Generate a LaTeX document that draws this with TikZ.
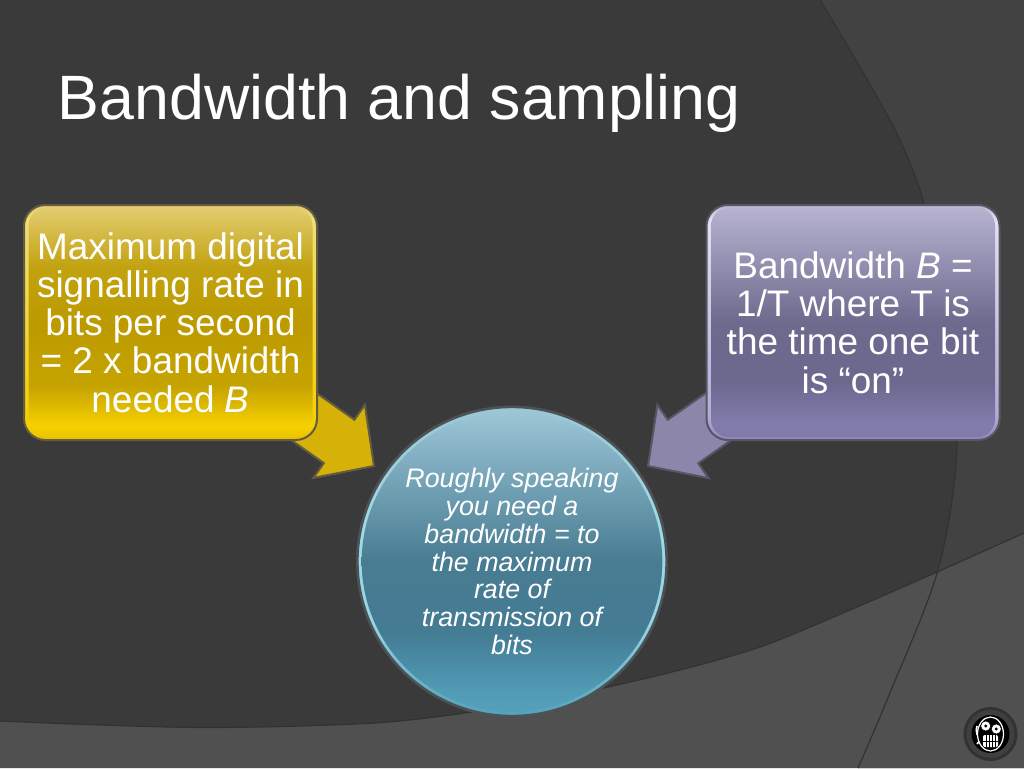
\documentclass[tikz,border=0pt]{standalone}
\usepackage{fontspec}
\setmainfont{Liberation Sans}
\usetikzlibrary{backgrounds,calc,shapes.geometric}
\definecolor{slatedark}{RGB}{58, 58, 58}
\definecolor{slateright}{RGB}{66, 66, 66}
\definecolor{slateband}{RGB}{80, 80, 80}
\definecolor{slateline}{RGB}{50, 50, 50}
\definecolor{goldedge}{RGB}{100, 92, 62}
\definecolor{goldarrowfill}{RGB}{214, 178, 8}
\definecolor{lilacedge}{RGB}{88, 86, 100}
\definecolor{lilacarrowfill}{RGB}{140, 134, 170}
\definecolor{tealedge}{RGB}{76, 82, 86}
\pgfdeclareverticalshading{goldrimfill}{100bp}{color(0bp)=(rgb,255:red,232;green,190;blue,0); color(25bp)=(rgb,255:red,232;green,190;blue,0); color(28bp)=(rgb,255:red,244;green,208;blue,0); color(50bp)=(rgb,255:red,240;green,214;blue,60); color(72bp)=(rgb,255:red,240;green,222;blue,120); color(75bp)=(rgb,255:red,226;green,204;blue,112); color(100bp)=(rgb,255:red,226;green,204;blue,112)}
\pgfdeclareverticalshading{goldbodyfill}{100bp}{color(0bp)=(rgb,255:red,236;green,196;blue,0); color(25bp)=(rgb,255:red,236;green,196;blue,0); color(27.5bp)=(rgb,255:red,246;green,208;blue,0); color(36bp)=(rgb,255:red,198;green,164;blue,0); color(50bp)=(rgb,255:red,188;green,154;blue,0); color(62bp)=(rgb,255:red,194;green,162;blue,16); color(75bp)=(rgb,255:red,226;green,204;blue,112); color(100bp)=(rgb,255:red,226;green,204;blue,112)}
\pgfdeclareverticalshading{lilacrimfill}{100bp}{color(0bp)=(rgb,255:red,140;green,134;blue,184); color(25bp)=(rgb,255:red,140;green,134;blue,184); color(30bp)=(rgb,255:red,176;green,172;blue,214); color(50bp)=(rgb,255:red,200;green,198;blue,226); color(72bp)=(rgb,255:red,226;green,224;blue,240); color(75bp)=(rgb,255:red,182;green,178;blue,208); color(100bp)=(rgb,255:red,182;green,178;blue,208)}
\pgfdeclareverticalshading{lilacbodyfill}{100bp}{color(0bp)=(rgb,255:red,128;green,122;blue,170); color(25bp)=(rgb,255:red,128;green,122;blue,170); color(28bp)=(rgb,255:red,130;green,124;blue,172); color(37bp)=(rgb,255:red,108;green,104;blue,142); color(50bp)=(rgb,255:red,110;green,106;blue,142); color(75bp)=(rgb,255:red,182;green,178;blue,208); color(100bp)=(rgb,255:red,182;green,178;blue,208)}
\pgfdeclareverticalshading{tealrimfill}{100bp}{color(0bp)=(rgb,255:red,84;green,160;blue,186); color(25bp)=(rgb,255:red,84;green,160;blue,186); color(40bp)=(rgb,255:red,150;green,214;blue,226); color(55bp)=(rgb,255:red,160;green,218;blue,230); color(75bp)=(rgb,255:red,156;green,198;blue,214); color(100bp)=(rgb,255:red,156;green,198;blue,214)}
\pgfdeclareverticalshading{tealbodyfill}{100bp}{color(0bp)=(rgb,255:red,84;green,160;blue,186); color(25bp)=(rgb,255:red,84;green,160;blue,186); color(29bp)=(rgb,255:red,80;green,154;blue,180); color(38bp)=(rgb,255:red,68;green,124;blue,148); color(50bp)=(rgb,255:red,72;green,124;blue,146); color(75bp)=(rgb,255:red,156;green,198;blue,214); color(100bp)=(rgb,255:red,156;green,198;blue,214)}
\tikzset{
  boxrim/.style={rectangle, rounded corners=16pt, minimum width=219.75pt, minimum height=176.25pt, inner sep=0pt, line width=1.5pt},
  boxbody/.style={rectangle, rounded corners=13.5pt, minimum width=213pt, minimum height=172pt, inner sep=0pt, text=white, align=center, font=\fontsize{27.7}{28.7}\selectfont},
  blockarrow/.style={line width=1.5pt, line join=miter}
}
\newcommand{\blockarrow}[4]{%
  \coordinate (blockbase) at ($(#2)!32pt!(#1)$);
  \filldraw[blockarrow, draw=#3, fill=#4]
    ($(#1)!19.9pt!90:(#2)$) -- ($(blockbase)!19.9pt!-90:(#1)$) -- ($(blockbase)!33.5pt!-90:(#1)$) -- (#2)
    -- ($(blockbase)!33.5pt!90:(#1)$) -- ($(blockbase)!19.9pt!90:(#1)$) -- ($(#1)!19.9pt!-90:(#2)$) -- cycle;
}
\begin{document}
\begin{tikzpicture}[x=0.75pt, y=-0.75pt]
            \useasboundingbox (0,0) rectangle (1024,768);
            \node[boxrim, draw=goldedge, shading=goldrimfill]      (maxrim)    at (170.5,322.5) {};
            \node[boxbody, shading=goldbodyfill]                   (maxbox)    at (maxrim) {Maximum digital\\signalling rate in\\bits per second\\= 2 x bandwidth\\needed \textit{B}};
            \node[boxrim, draw=lilacedge, shading=lilacrimfill]    (bwrim)     at (853,322.5) {};
            \node[boxbody, shading=lilacbodyfill]                  (bwbox)     at (bwrim) {Bandwidth \textit{B} =\\1/T where T is\\the time one bit\\is “on”};
            \node[circle, minimum size=232pt, inner sep=0pt, line width=2pt, draw=tealedge, shading=tealrimfill] (discrim) at (512,561.5) {};
            \node[circle, minimum size=225.5pt, inner sep=0pt, shading=tealbodyfill, text=white, align=center, font=\fontsize{20.1}{20.8}\itshape\selectfont] (discbox) at (discrim) {Roughly speaking\\you need a\\bandwidth = to\\the maximum\\rate of\\transmission of\\bits};
            \node[anchor=base west, inner sep=0pt, text=white, font=\fontsize{47}{50}\selectfont] (title) at (57.5,119.5) {Bandwidth and sampling};
            \coordinate (goldtip) at (374,466);
            \coordinate (lilactip) at (648,466);
            \begin{pgfonlayer}{background}
            \fill[slatedark]  (0,0) rectangle (1024,768);
            \fill[slateright] plot[smooth] coordinates {(820,0) (850,50) (877,97) (900,140) (923,200) (945,300) (957,445) (938,570) (887,700) (858,768)} -- (1024,768) -- (1024,0) -- cycle;
            \fill[slateband]  plot[smooth] coordinates {(0,721) (100,725) (200,727.5) (300,726) (400,721) (530,703) (660,675) (760,647) (850,610) (937,572) (1024,533)} -- (1024,768) -- (0,768) -- cycle;
            \draw[slateline, line width=0.9pt] plot[smooth] coordinates {(820,0) (850,50) (877,97) (900,140) (923,200) (945,300) (957,445) (938,570) (887,700) (858,768)};
            \draw[slateline, line width=0.9pt] plot[smooth] coordinates {(0,721) (100,725) (200,727.5) (300,726) (400,721) (530,703) (660,675) (760,647) (850,610) (937,572) (1024,533)};
            \blockarrow{maxrim.center}{goldtip}{goldedge}{goldarrowfill}
            \blockarrow{bwrim.center}{lilactip}{lilacedge}{lilacarrowfill}
            \end{pgfonlayer}
            \fill[color=slateline]           (990.5,734) circle (27);
            \fill[color=slateband!110!white] (990.5,734) circle (24);
            \fill[color=black]               (990.5,734) circle (19);
            \draw[color=white, line width=1.2pt] (977,726) arc (200:125:12);
            \draw[color=white, line width=1.2pt] (977,744) arc (210:280:16);
            \filldraw[color=white, fill=black, line width=0.9pt] (990.5,734) ellipse (13 and 17);
            \filldraw[color=black, fill=white, line width=0.4pt] (985.7,726) circle (5);
            \filldraw[color=black, fill=white, line width=0.4pt] (996.3,729) circle (5);
            \fill[black] (985.7,726) circle (1.6) (996.3,729) circle (1.6);
            \fill[white, rounded corners=1.5pt] (983,735) rectangle (998,747);
            \foreach \tooth in {986,989,992,995}
                \draw[black, line width=0.5pt] (\tooth,735) -- (\tooth,747);
            \draw[black, line width=0.5pt] (983,741) -- (998,741);
\end{tikzpicture}
\end{document}
